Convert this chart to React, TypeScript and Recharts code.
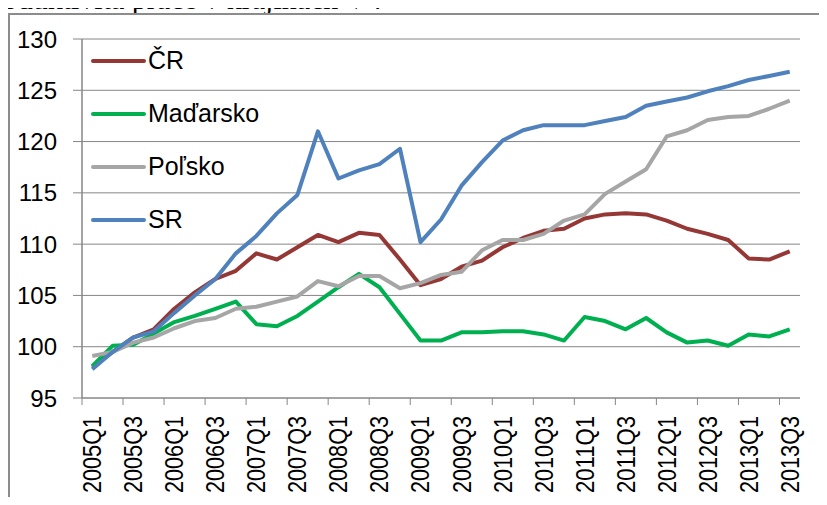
import React from 'react';
import { LineChart, Line, XAxis, YAxis, CartesianGrid, Legend } from 'recharts';

const quarters = [
  '2005Q1', '2005Q2', '2005Q3', '2005Q4', '2006Q1', '2006Q2', '2006Q3', '2006Q4',
  '2007Q1', '2007Q2', '2007Q3', '2007Q4', '2008Q1', '2008Q2', '2008Q3', '2008Q4',
  '2009Q1', '2009Q2', '2009Q3', '2009Q4', '2010Q1', '2010Q2', '2010Q3', '2010Q4',
  '2011Q1', '2011Q2', '2011Q3', '2011Q4', '2012Q1', '2012Q2', '2012Q3', '2012Q4',
  '2013Q1', '2013Q2', '2013Q3',
];

const cr = [
  98.0, 99.5, 100.9, 101.7, 103.7, 105.3, 106.6, 107.4, 109.1, 108.5, 109.7, 110.9,
  110.2, 111.1, 110.9, 108.5, 106.0, 106.6, 107.8, 108.4, 109.7, 110.6, 111.3, 111.5,
  112.5, 112.9, 113.0, 112.9, 112.3, 111.5, 111.0, 110.4, 108.6, 108.5, 109.3,
];
const hu = [
  98.1, 100.1, 100.2, 101.3, 102.4, 103.0, 103.7, 104.4, 102.2, 102.0, 103.0, 104.4,
  105.8, 107.1, 105.8, 103.2, 100.6, 100.6, 101.4, 101.4, 101.5, 101.5, 101.2, 100.6,
  102.9, 102.5, 101.7, 102.8, 101.4, 100.4, 100.6, 100.1, 101.2, 101.0, 101.7,
];
const pl = [
  99.1, 99.5, 100.4, 100.9, 101.8, 102.5, 102.8, 103.7, 103.9, 104.4, 104.9, 106.4,
  105.9, 106.9, 106.9, 105.7, 106.2, 107.0, 107.3, 109.4, 110.4, 110.4, 111.0, 112.3,
  112.9, 114.9, 116.1, 117.3, 120.5, 121.1, 122.1, 122.4, 122.5, 123.2, 124.0,
];
const sr = [
  97.8, 99.5, 100.9, 101.5, 103.3, 105.0, 106.6, 109.1, 110.8, 113.0, 114.8, 121.0,
  116.4, 117.2, 117.8, 119.3, 110.2, 112.4, 115.7, 118.0, 120.1, 121.1, 121.6, 121.6,
  121.6, 122.0, 122.4, 123.5, 123.9, 124.3, 124.9, 125.4, 126.0, 126.4, 126.8,
];
const yTicks = [95, 100, 105, 110, 115, 120, 125, 130];

const series = [
  { key: 'cr', name: 'ČR', color: '#953735' },
  { key: 'hu', name: 'Maďarsko', color: '#00B050' },
  { key: 'pl', name: 'Poľsko', color: '#A6A6A6' },
  { key: 'sr', name: 'SR', color: '#4F81BD' },
];

const data = quarters.map((q, i) => ({ q, cr: cr[i], hu: hu[i], pl: pl[i], sr: sr[i] }));

const FONT = '"Liberation Sans", Arial, sans-serif';
const GRAY = '#868686';

// tick mark sits on the category boundary, label in the middle of the category
function QuarterTick(props: any) {
  const { x, y, payload } = props;
  const half = payload.offset || 0;
  return (
    <g>
      <line x1={x - half} x2={x - half} y1={y} y2={y + 7} stroke={GRAY} strokeWidth={1} />
      <text
        x={x}
        y={y + 18}
        transform={`rotate(-90, ${x}, ${y + 18})`}
        textAnchor="end"
        dominantBaseline="central"
        fontFamily={FONT}
        fontSize={25}
        textLength={77}
        lengthAdjust="spacingAndGlyphs"
        fill="#000"
      >
        {payload.value}
      </text>
    </g>
  );
}

function LegendBox() {
  return (
    <div style={{ fontFamily: FONT, fontSize: 25, color: '#000' }}>
      {series.map((s) => (
        <div key={s.key} style={{ height: 53, display: 'flex', alignItems: 'center' }}>
          <div style={{ width: 55, height: 4, background: s.color, borderRadius: 2 }} />
          <span style={{ marginLeft: 2 }}>{s.name}</span>
        </div>
      ))}
    </div>
  );
}

export default function App() {
  return (
    <div style={{ position: 'relative', width: 827, height: 505, margin: -8, overflow: 'hidden', background: '#fff' }}>
      <svg width={827} height={30} style={{ position: 'absolute', left: 0, top: 0 }}>
        <text x={-24} y={9} fontFamily='"Liberation Serif", "Times New Roman", serif' fontSize={30} fill="#000">
          Produktivita práce v krajinách V4
        </text>
      </svg>
      <div style={{ position: 'absolute', left: 8, top: 13, width: 900, height: 600, border: '2px solid #8c8c8c' }} />
      <div style={{ position: 'absolute', left: 0, top: 0 }}>
        <LineChart width={827} height={505} data={data} margin={{ top: 39, right: 27, bottom: 7, left: 0 }}>
          <CartesianGrid horizontal vertical={false} stroke={GRAY} strokeWidth={1} />
          <XAxis
            dataKey="q"
            scale="band"
            interval={1}
            height={100}
            tickLine={false}
            tickSize={0}
            tickMargin={0}
            axisLine={{ stroke: GRAY, strokeWidth: 1 }}
            tick={<QuarterTick />}
          />
          <YAxis
            domain={[95, 130]}
            ticks={yTicks}
            width={82}
            tickSize={9}
            tickMargin={16}
            axisLine={{ stroke: GRAY, strokeWidth: 1.5 }}
            tickLine={{ stroke: GRAY }}
            tick={{ fill: '#000', fontSize: 24, fontFamily: FONT }}
          />
          <Legend
            layout="horizontal"
            align="center"
            verticalAlign="middle"
            content={<LegendBox />}
            wrapperStyle={{ position: 'absolute', left: 91, top: 34, width: 'auto', height: 'auto' }}
          />
          {series.map((s) => (
            <Line
              key={s.key}
              dataKey={s.key}
              name={s.name}
              type="linear"
              stroke={s.color}
              strokeWidth={4}
              strokeLinejoin="round"
              dot={false}
              isAnimationActive={false}
            />
          ))}
        </LineChart>
      </div>
    </div>
  );
}
